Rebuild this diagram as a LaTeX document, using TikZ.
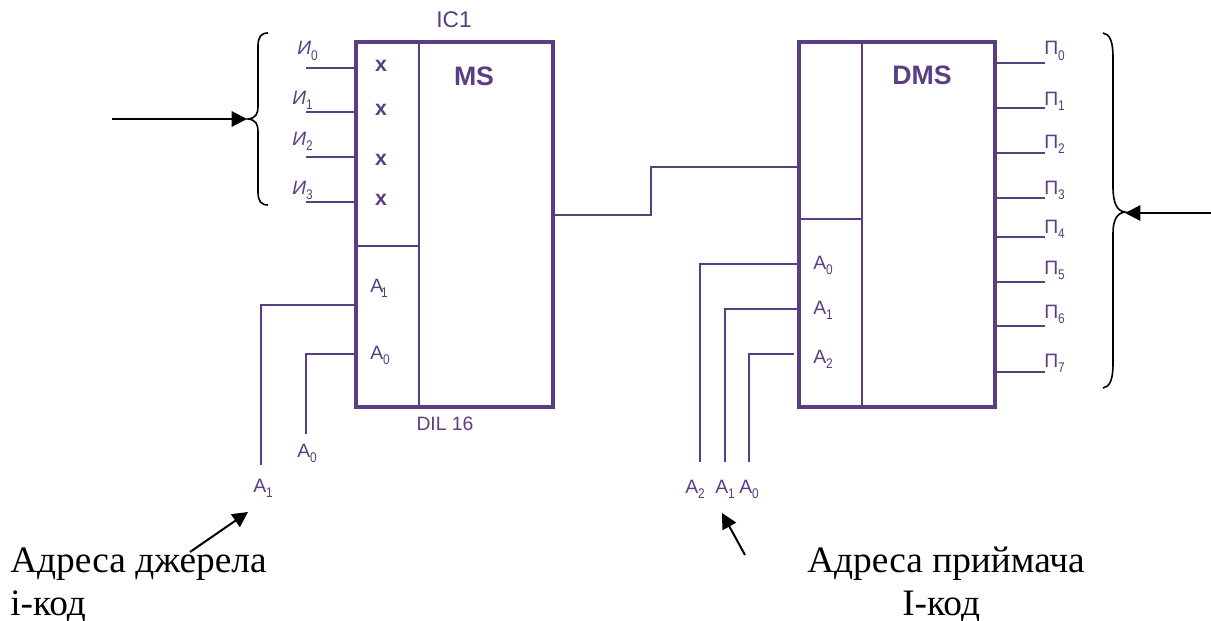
\documentclass[tikz,border=0pt]{standalone}
\usepackage{graphicx}
\usepackage{fontspec}
\setmainfont{Liberation Serif}
\setsansfont{Liberation Sans}
\usetikzlibrary{arrows.meta}
\definecolor{ink}{HTML}{5A3E82}
\newcommand{\sub}[1]{\raisebox{-0.27em}{\scalebox{0.85}[1]{\fontsize{10.5pt}{11pt}\sffamily\selectfont #1}}}
\tikzset{
  box/.style={draw=ink,line width=3pt,inner sep=0pt,outer sep=0pt,anchor=north west},
  wire/.style={draw=ink,line width=1.1pt},
  thin wall/.style={draw=ink,line width=1.1pt},
  lab/.style={text=ink,font=\sffamily\fontsize{14.5pt}{16pt}\selectfont,inner sep=0pt},
  big/.style={text=ink,font=\sffamily\bfseries\fontsize{20pt}{22pt}\selectfont,inner sep=0pt},
  ic/.style={text=ink,font=\sffamily\fontsize{17pt}{18pt}\selectfont,inner sep=0pt},
  cross/.style={text=ink,font=\sffamily\bfseries\fontsize{16pt}{18pt}\selectfont,inner sep=0pt},
  captext/.style={text=black,font=\rmfamily\fontsize{28pt}{30pt}\selectfont,inner sep=0pt,anchor=base west},
  brace/.style={draw=black,line width=1.2pt},
  pointer/.style={draw=black,line width=1.5pt,-{Triangle[length=11.5pt,width=11.5pt]}},
}
\begin{document}
\begin{tikzpicture}[x=0.75pt,y=-0.75pt]
\useasboundingbox (0,0) rectangle (1211,621);
% blocks
\node[box,minimum width=147.75pt,minimum height=273.75pt] (ms) at (356,41.5) {};
\node[box,minimum width=147.4pt,minimum height=274.1pt] (dms) at (798.5,41.5) {};
\coordinate (msv1) at (419,41.5); \coordinate (msv2) at (419,406.5);
\coordinate (msh1) at (356,246); \coordinate (msh2) at (419,246);
\draw[thin wall] (msv1) -- (msv2);
\draw[thin wall] (msh1) -- (msh2);
\coordinate (dv1) at (862,41.5); \coordinate (dv2) at (862,407);
\coordinate (dh1) at (798,219); \coordinate (dh2) at (862,219);
\draw[thin wall] (dv1) -- (dv2);
\draw[thin wall] (dh1) -- (dh2);
% titles
\node[ic] (ic1) at (454,20) {IC1};
\node[big] (mst) at (474,76.5) {MS};
\node[big] (dmst) at (922,75.5) {DMS};
\node[lab] (dil) at (445,423.5) {DIL 16};
% left pins
\foreach \n/\y in {0/68,1/112,2/157,3/202}{
  \coordinate (i\n) at (306,\y);
  \coordinate (ie\n) at (356,\y);
  \draw[wire] (i\n) -- (ie\n);
}
\node[lab,anchor=base west] (l0) at (297,55) {\textit{И}\sub{0}};
\node[lab,anchor=base west] (l1) at (292,104) {\textit{И}\sub{1}};
\node[lab,anchor=base west] (l2) at (292,145) {\textit{И}\sub{2}};
\node[lab,anchor=base west] (l3) at (292,194) {\textit{И}\sub{3}};
\node[cross] (x0) at (381,66) {x};
\node[cross] (x1) at (381,110) {x};
\node[cross] (x2) at (381,160) {x};
\node[cross] (x3) at (381,200) {x};
% left address
\coordinate (a1in) at (356,305); \coordinate (a1c) at (261,305); \coordinate (a1e) at (261,465);
\coordinate (a0in) at (356,354); \coordinate (a0c) at (306,354); \coordinate (a0e) at (306,434);
\draw[wire] (a1in) -- (a1c) -- (a1e);
\draw[wire] (a0in) -- (a0c) -- (a0e);
\node[lab,anchor=base west] (ia1) at (370,292) {A\kern-1.5pt\sub{1}};
\node[lab,anchor=base west] (ia0) at (370,359) {A\sub{0}};
\node[lab,anchor=base west] (oa0) at (297,457) {A\sub{0}};
\node[lab,anchor=base west] (oa1) at (253,492) {A\sub{1}};
% link
\coordinate (lk1) at (553,215); \coordinate (lk2) at (651,215); \coordinate (lk3) at (651,167); \coordinate (lk4) at (798,167);
\draw[wire] (lk1) -- (lk2) -- (lk3) -- (lk4);
% right pins
\foreach \n/\y/\b in {0/63/55,1/108/105,2/153/148,3/198/194,4/237/233,5/282/274,6/326/318,7/372/367}{
  \coordinate (ps\n) at (995,\y);
  \coordinate (p\n) at (1045,\y);
  \draw[wire] (ps\n) -- (p\n);
  \node[lab,anchor=base west] (pl\n) at (1044,\b) {П\sub{\n}};
}
% right address
\coordinate (b0in) at (798,264); \coordinate (b0c) at (700,264); \coordinate (b0e) at (700,462);
\coordinate (b1in) at (798,309); \coordinate (b1c) at (725,309); \coordinate (b1e) at (725,462);
\coordinate (b2in) at (794,354); \coordinate (b2c) at (749,354); \coordinate (b2e) at (749,462);
\draw[wire] (b0in) -- (b0c) -- (b0e);
\draw[wire] (b1in) -- (b1c) -- (b1e);
\draw[wire] (b2in) -- (b2c) -- (b2e);
\node[lab,anchor=base west] (da0) at (813,269) {A\sub{0}};
\node[lab,anchor=base west] (da1) at (813,314) {A\sub{1}};
\node[lab,anchor=base west] (da2) at (813,363) {A\sub{2}};
\node[lab,anchor=base west] (oa2) at (685,493) {A\sub{2}};
\node[lab,anchor=base west] (ob1) at (715,493) {A\sub{1}};
\node[lab,anchor=base west] (ob0) at (739,493) {A\sub{0}};
% braces
\coordinate (lb) at (248,119);
\draw[brace] (268,33) .. controls (261,33) and (258,37) .. (258,46) -- (258,106) .. controls (258,114) and (256,118) .. (lb) .. controls (256,120) and (258,124) .. (258,132) -- (258,192) .. controls (258,201) and (261,205) .. (268,205);
\coordinate (rb) at (1125,212);
\draw[brace] (1103,33) .. controls (1110,34) and (1113,42) .. (1113,57) -- (1113,187) .. controls (1113,203) and (1117,211) .. (rb) .. controls (1117,213) and (1113,220) .. (1113,233) -- (1113,364) .. controls (1113,379) and (1110,387) .. (1103,388);
% pointers
\coordinate (pa) at (112,119); \coordinate (pat) at (247,119);
\coordinate (pb) at (1211,213); \coordinate (pbt) at (1125,213);
\coordinate (pc) at (190,552); \coordinate (pct) at (248,512);
\coordinate (pd) at (745,555); \coordinate (pdt) at (722,513);
\draw[pointer] (pa) -- (pat);
\draw[pointer] (pb) -- (pbt);
\draw[pointer] (pc) -- (pct);
\draw[pointer] (pd) -- (pdt);
% captions
\node[captext] (c1) at (10,572) {Адреса джерела};
\node[captext] (c2) at (10,615) {і-код};
\node[captext] (c3) at (807,572) {Адреса приймача};
\node[captext] (c4) at (902,615) {І-код};
\end{tikzpicture}
\end{document}
